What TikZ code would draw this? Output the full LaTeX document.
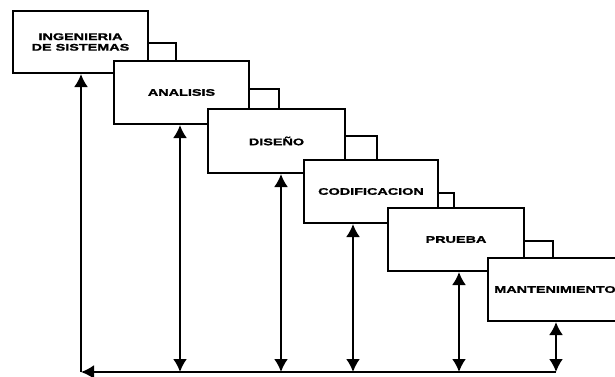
\documentclass[tikz,border=0pt]{standalone}
\usepackage{fontspec}
\newfontfamily\labfont[FakeStretch=1.5,FakeBold=1.5]{Liberation Sans}
\usetikzlibrary{arrows.meta}
\begin{document}
\begin{tikzpicture}[x=1pt,y=-1pt,
  box/.style={draw=black, fill=white, line width=2pt, anchor=north west, inner sep=0pt,
    minimum width=136pt, minimum height=63pt, align=center,
    font=\labfont\bfseries\fontsize{9.6}{9.6}\selectfont},
  tab/.style={draw=black, fill=white, line width=2pt, anchor=north west, inner sep=0pt},
  tip/.style={Latex[length=13pt,width=14pt]},
  arr/.style={line width=2pt, {Latex[length=13pt,width=14pt]}-{Latex[length=13pt,width=14pt]}},
  arrone/.style={line width=2pt, -{Latex[length=13pt,width=14pt]}}]
\useasboundingbox (0,0) rectangle (615,376);
\node[box, minimum width=135pt, minimum height=62pt] (B1) at (12,10) {INGENIERIA\\[1pt]DE SISTEMAS};
\node[tab, minimum width=28pt, minimum height=18pt] (T1) at (147,42) {};
\node[box, minimum width=135pt] (B2) at (113,60) {ANALISIS};
\node[tab, minimum width=30pt, minimum height=20pt] (T2) at (248,88) {};
\node[box, minimum width=137pt, minimum height=64pt] (B3) at (207,108) {DISEÑO};
\node[tab, minimum width=32pt, minimum height=24pt] (T3) at (344,135) {};
\node[box, minimum width=134pt] (B4) at (303,159) {CODIFICACION};
\node[tab, minimum width=16pt, minimum height=15pt] (T4) at (437,192) {};
\node[box, minimum width=136pt] (B5) at (387,207) {PRUEBA};
\node[tab, minimum width=29pt, minimum height=17pt] (T5) at (523,240) {};
\node[box, minimum width=140pt] (B6) at (487,257) {MANTENIMIENTO\hspace*{6pt}};
\coordinate (C0) at (81,372);
\coordinate (C2) at (180,372);
\coordinate (C3) at (281,372);
\coordinate (C4) at (353,372);
\coordinate (C5) at (459,372);
\coordinate (C6) at (556,372);
\draw[arr] (B2.south -| C2) -- (C2);
\draw[arr] (B3.south -| C3) -- (C3);
\draw[arr] (B4.south -| C4) -- (C4);
\draw[arr] (B5.south -| C5) -- (C5);
\draw[arr] (B6.south -| C6) -- (C6);
\draw[arrone] (C6) -- (C0);
\draw[arrone] (C0) -- (B1.south -| C0);
\end{tikzpicture}
\end{document}
